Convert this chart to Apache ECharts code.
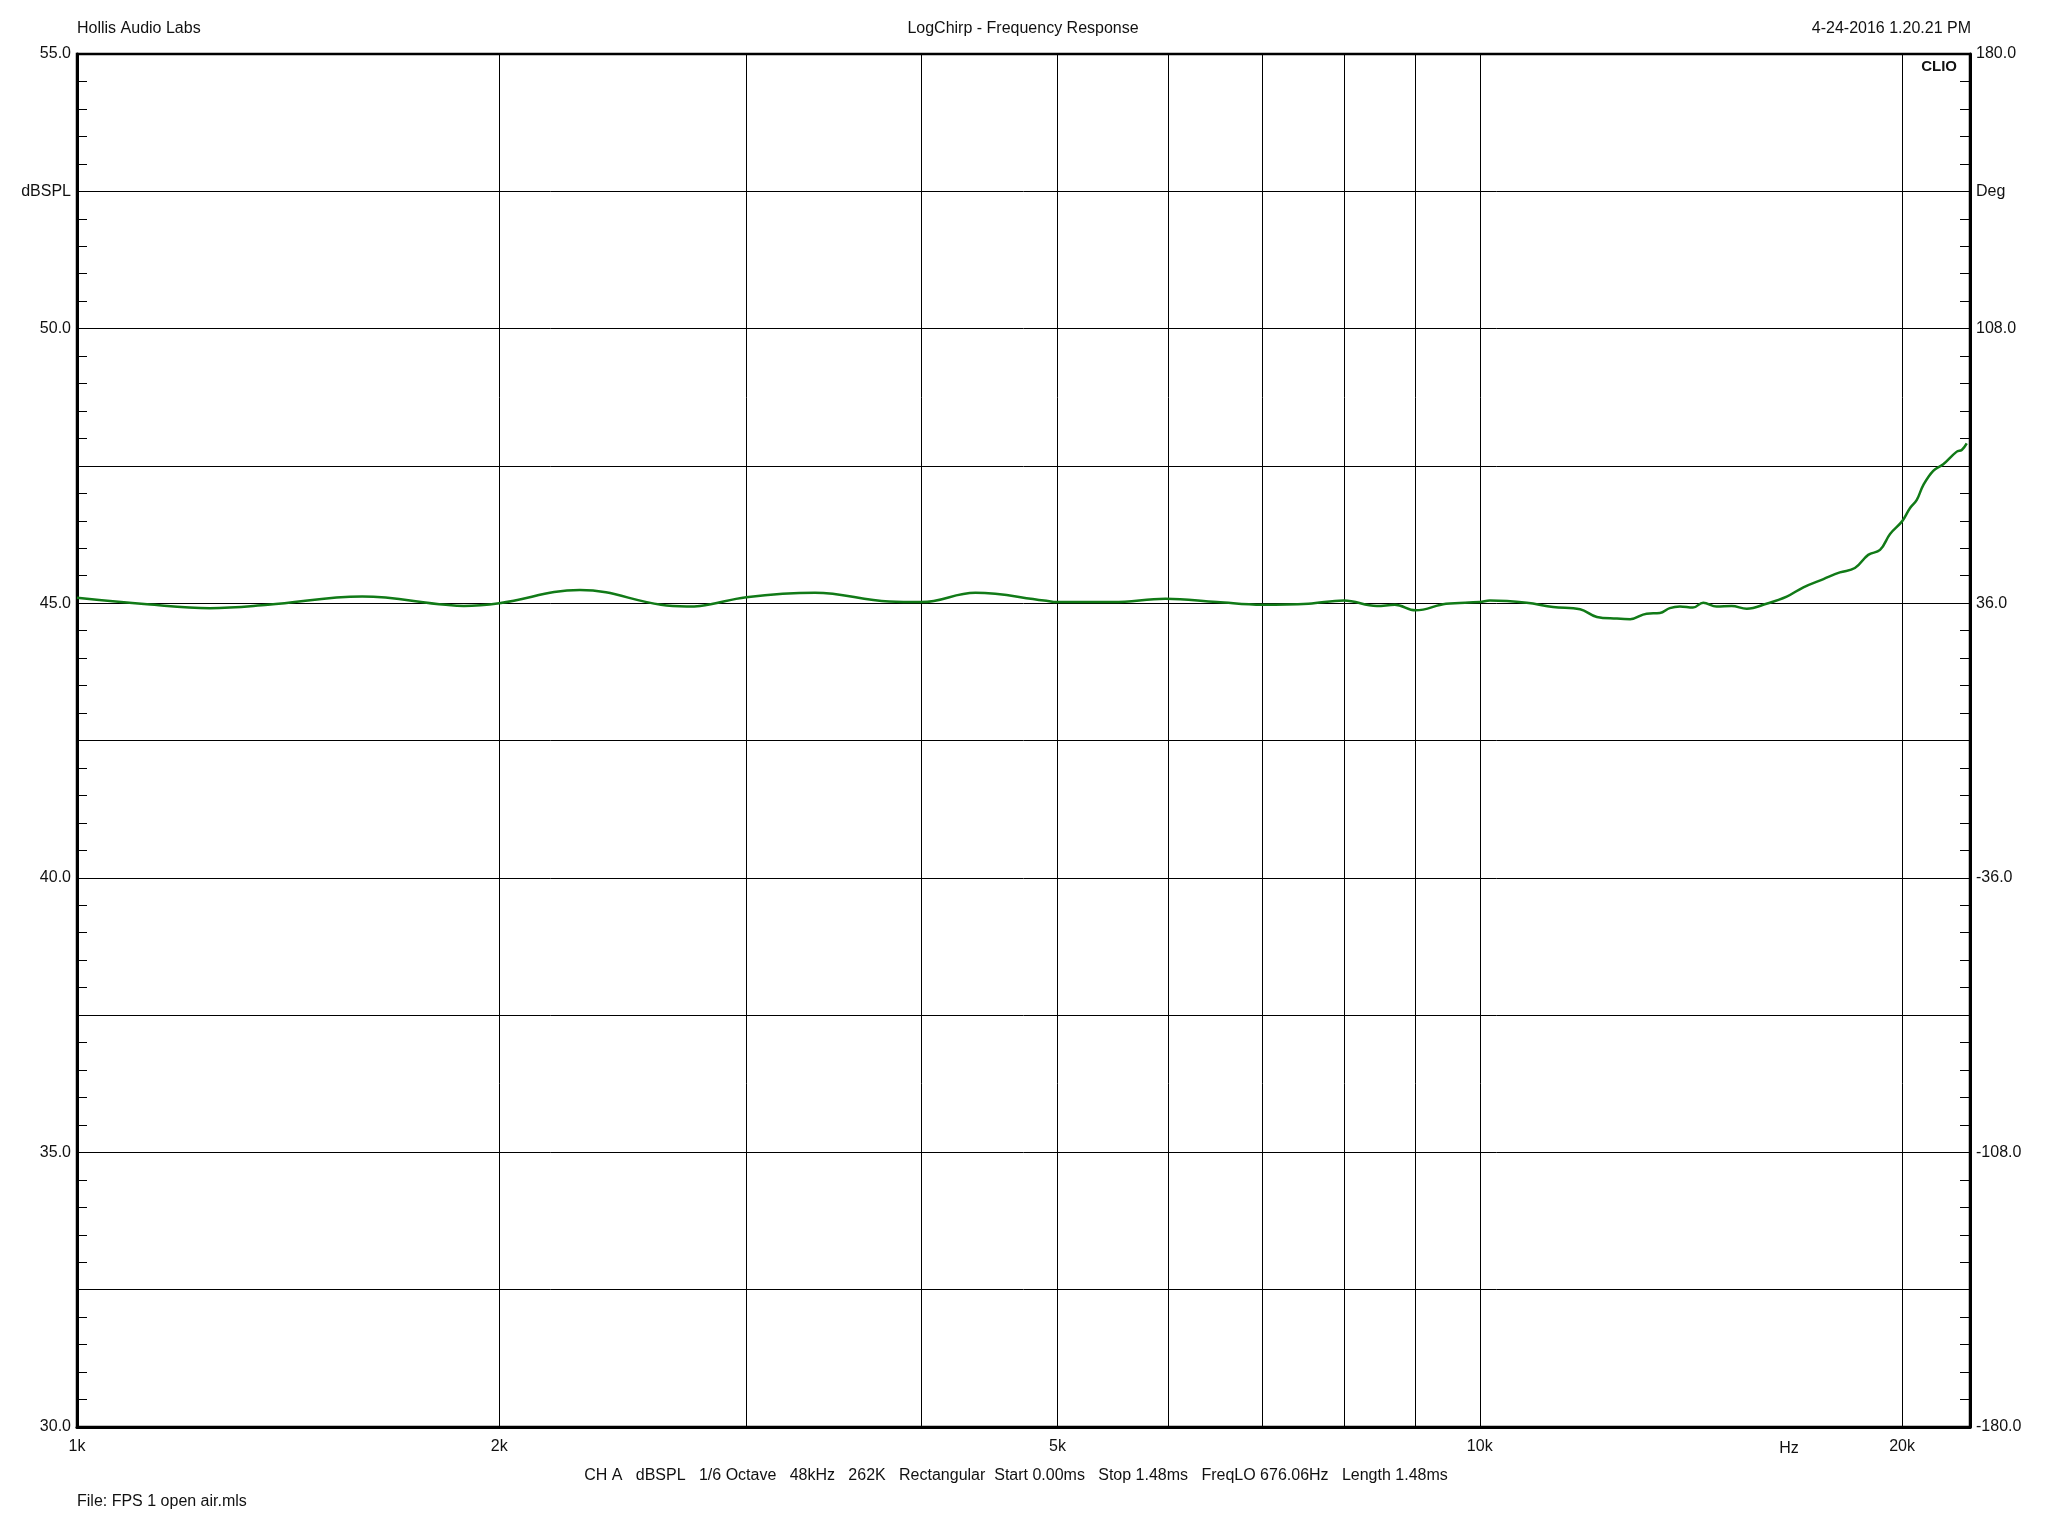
<!DOCTYPE html>
<html>
<head>
<meta charset="utf-8">
<script src="https://cdn.jsdelivr.net/npm/echarts@6/dist/echarts.min.js"></script>
<style>
html,body{margin:0;padding:0;background:#fff;}
#chart{width:2048px;height:1536px;}
</style>
</head>
<body>
<div id="chart"></div>
<script>
// frequency response
var freqHz = [1000,1122,1244,1368,1597,1832,1887,2000,2283,2608,2721,2781,3000,3358,3792,4000,4370,4891,5000,5477,5970,6496,7000,7549,8000,8446,8698,9000,9461,10000,10170,10800,11280,11790,12120,12520,12800,13150,13440,13660,13890,14190,14430,14750,15120,15500,16010,16550,17010,17580,18060,18510,18920,19290,19610,20000,20260,20490,20710,21050,21400,21880,22060,22240];
var splDb = [45.10,44.98,44.91,44.97,45.12,44.97,44.95,45.00,45.24,44.97,44.94,44.95,45.11,45.19,45.03,45.02,45.19,45.05,45.02,45.02,45.08,45.02,44.97,44.99,45.05,44.95,44.97,44.87,44.99,45.02,45.05,45.01,44.93,44.89,44.75,44.72,44.71,44.81,44.82,44.91,44.94,44.92,45.01,44.94,44.95,44.90,44.99,45.12,45.29,45.44,45.56,45.64,45.88,45.97,46.26,46.49,46.73,46.88,47.15,47.41,47.53,47.76,47.79,47.91];

// vertical grid lines and x labels
var gridFreqs = [1000,2000,3000,4000,5000,6000,7000,8000,9000,10000,20000];
var xLabelFreqs = [1000,2000,5000,10000,20000];
var xLabelTexts = ['1k','2k','5k','10k','20k'];

var FONT = '"Liberation Sans", Arial, sans-serif';

var curve = freqHz.map(function(f,i){ return [f, splDb[i]]; });

var vlines = gridFreqs.map(function(f){
	var k = xLabelFreqs.indexOf(f);
	return {
		xAxis: f,
		label: k >= 0 ? {show:true, formatter:xLabelTexts[k]} : {show:false}
	};
});

function txt(x, y, s, align, font){
	return {
		type:'text', x:x, y:y, silent:true,
		style:{text:s, font:font || ('16px ' + FONT), fill:'#111',
			textAlign:align, align:align, textVerticalAlign:'middle', verticalAlign:'middle'}
	};
}

var chart = echarts.init(document.getElementById('chart'));
var option = {
	animation:false,
	backgroundColor:'#fff',
	grid:{left:77, top:54, right:78, bottom:109, show:true, borderColor:'#000', borderWidth:2.5, backgroundColor:'transparent'},
	graphic:[
		txt(77, 29, 'Hollis Audio Labs', 'left'),
		txt(1023, 29, 'LogChirp - Frequency Response', 'center'),
		txt(1971, 29, '4-24-2016 1.20.21 PM', 'right'),
		txt(1957, 67, 'CLIO', 'right', 'bold 15px ' + FONT),
		txt(1789, 1449, 'Hz', 'center'),
		txt(1016, 1476, 'CH A   dBSPL   1/6 Octave   48kHz   262K   Rectangular  Start 0.00ms   Stop 1.48ms   FreqLO 676.06Hz   Length 1.48ms', 'center'),
		txt(77, 1502, 'File: FPS 1 open air.mls', 'left')
	],
	xAxis:{
		type:'log', logBase:10, min:1000, max:22360,
		axisLine:{show:true, onZero:false, lineStyle:{color:'#000', width:3}},
		axisTick:{show:false},
		axisLabel:{show:false},
		splitLine:{show:false},
		minorTick:{show:false},
		minorSplitLine:{show:false}
	},
	yAxis:[
		{
			type:'value', position:'left', min:30, max:55, interval:2.5,
			axisLine:{show:true, lineStyle:{color:'#000', width:3}},
			axisTick:{show:true, inside:true, length:10, lineStyle:{color:'#000', width:1}},
			minorTick:{show:true, splitNumber:5, length:10, lineStyle:{color:'#000', width:1}},
			splitLine:{show:true, lineStyle:{color:'#000', width:1}},
			axisLabel:{
				margin:6, color:'#111', fontSize:16, fontFamily:FONT,
				formatter:function(v){
					if (Math.abs(v - 52.5) < 1e-6) return 'dBSPL';
					if (Math.abs(v % 5) < 1e-6) return v.toFixed(1);
					return '';
				}
			}
		},
		{
			type:'value', position:'right', min:-180, max:180, interval:36,
			axisLine:{show:true, lineStyle:{color:'#000', width:3}},
			axisTick:{show:true, inside:true, length:10, lineStyle:{color:'#000', width:1}},
			minorTick:{show:true, splitNumber:5, length:10, lineStyle:{color:'#000', width:1}},
			splitLine:{show:false},
			axisLabel:{
				margin:6, color:'#111', fontSize:16, fontFamily:FONT,
				formatter:function(v){
					if (v === 144) return 'Deg';
					if (Math.abs((v - 180) % 72) < 1e-6) return v.toFixed(1);
					return '';
				}
			}
		}
	],
	series:[
		{
			name:'grid', type:'line', z:1, silent:true,
			data:curve, showSymbol:false, lineStyle:{opacity:0},
			markLine:{
				silent:true, symbol:['none','none'], animation:false,
				lineStyle:{color:'#000', width:1, type:'solid'},
				label:{position:'start', distance:12, color:'#111', fontSize:16, fontFamily:FONT},
				emphasis:{disabled:true},
				data:vlines
			}
		},
		{
			name:'SPL', type:'line', z:5,
			data:curve, showSymbol:false, smooth:0.4,
			lineStyle:{color:'#117a17', width:2.5}
		}
	]
};
chart.setOption(option);
</script>
</body>
</html>
